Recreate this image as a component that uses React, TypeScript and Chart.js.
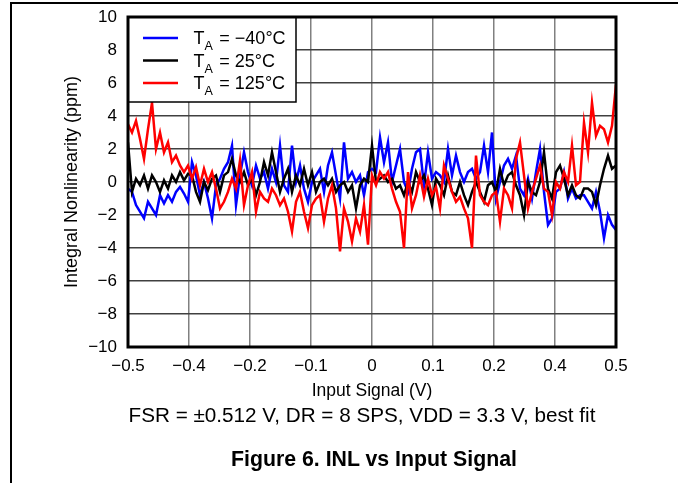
import React, { useEffect, useRef } from 'react';
import { Chart, registerables } from 'chart.js';

Chart.register(...registerables);

const FONT = "'Liberation Sans', Arial, Helvetica, sans-serif";

const X_MIN = -0.5;
const X_MAX = 0.5;
const X_TICK_VALUES = [-0.5, -0.375, -0.25, -0.125, 0, 0.125, 0.25, 0.375, 0.5];
const X_TICK_LABELS = ['−0.5', '−0.4', '−0.2', '−0.1', '0', '0.1', '0.2', '0.4', '0.5'];
const Y_TICK_VALUES = [-10, -8, -6, -4, -2, 0, 2, 4, 6, 8, 10];
const Y_TICK_LABELS = ['−10', '−8', '−6', '−4', '−2', '0', '2', '4', '6', '8', '10'];

const X_TITLE = 'Input Signal (V)';
const Y_TITLE = 'Integral Nonlinearity (ppm)';
const CONDITIONS = 'FSR = ±0.512 V, DR = 8 SPS, VDD = 3.3 V, best fit';
const FIGURE_TITLE = 'Figure 6. INL vs Input Signal';

const SERIES_TEMPS = ['−40°C', '25°C', '125°C'];
const SERIES_COLORS = ['#0000ff', '#000000', '#ff0000'];

// INL (ppm), evenly spaced samples from −0.5 V to +0.5 V
const INL_M40 = [
  -0.4, -0.6, -1.4, -1.8, -2.2, -1.2, -1.6, -2.0, -0.8, -1.3, -0.8, -1.2, -0.6, -0.3, -0.7, -1.2,
  1.2, 0.4, -0.8, 0.0, -1.0, -2.2, -0.2, 0.2, 0.8, 1.2, 2.2, -1.4, 0.4, 1.8, 0.6, -0.2,
  1.0, 0.2, 0.6, -0.4, 0.8, 0.0, 2.2, -0.2, -0.6, 2.2, 0.0, 1.0, -0.4, -1.2, 0.0, 0.4,
  0.8, -0.6, 1.0, 1.8, 0.4, -1.0, 2.4, 0.2, 0.6, 0.0, 0.4, -0.8, 0.6, 0.8, 0.6, 2.7,
  1.2, 2.4, 0.0, 1.0, 2.0, 0.0, -0.6, 0.8, 1.8, 2.0, -0.2, 1.8, 0.2, 0.6, 0.4, 0.0,
  2.0, 0.4, 1.6, 0.6, 0.0, 0.6, 0.8, 0.2, 0.6, 2.2, 0.6, 3.0, -1.0, 0.0, 1.0, 1.4,
  0.8, 1.6, -0.4, -0.8, 0.2, -1.0, 0.6, 2.0, -0.6, -2.6, -2.2, -0.6, -0.4, 0.6, -1.0, -0.4,
  -1.0, -0.8, -0.8, -1.2, -1.6, -0.6, -1.8, -3.4, -2.0, -2.6, -2.9,
];

const INL_25 = [
  2.4, -0.6, 0.2, -0.2, 0.4, -0.4, 0.4, 0.0, -0.6, 0.1, -0.4, 0.4, 0.0, 0.6, 0.1, 0.5,
  0.4, -0.6, -1.2, 0.0, -0.5, 0.2, 0.4, -0.6, 0.4, 0.6, 1.4, 0.4, 0.0, 0.6, -0.2, 0.2,
  -0.8, 0.0, 1.2, 0.4, 1.8, 0.6, -0.6, 0.2, 0.8, -0.6, 0.4, -0.2, 0.8, -0.2, 0.6, -0.6,
  0.0, 0.2, -0.2, 0.2, -0.6, -0.2, 0.0, -0.6, -0.2, -1.6, -0.2, 0.2, 0.0, 2.2, 0.0, 0.2,
  0.4, 0.0, 0.2, -0.4, -0.2, -0.8, 0.0, -0.6, 0.6, 0.0, 0.4, -0.4, -1.4, 0.2, -0.2, -0.8,
  0.4, -0.6, -0.8, 0.0, -0.8, -1.4, -0.6, 0.0, -0.6, -1.2, -0.2, 0.0, -0.6, 0.8, -0.2, 0.4,
  0.6, -0.2, -0.8, -2.0, 0.0, -0.6, -0.8, 0.0, 1.8, -0.4, -1.0, 0.6, 1.0, 0.2, -0.8, -0.2,
  -0.8, -1.0, -0.4, -0.4, -0.6, -1.4, -0.2, 0.8, 1.6, 0.8, 1.0,
];

const INL_125 = [
  3.5, 3.0, 3.7, 2.6, 1.4, 3.2, 4.8, 2.0, 3.0, 1.8, 2.4, 1.2, 1.6, 1.0, 0.6, 1.0,
  0.2, 0.9, -0.2, 0.8, 0.0, 0.6, -0.4, -1.6, -1.2, -0.6, 0.2, -0.4, 1.3, -1.4, -0.2, 0.6,
  -1.8, -0.6, -1.0, -1.2, -0.4, -0.8, -1.4, -1.0, -1.8, -3.0, -1.2, -0.6, -1.8, -2.8, -1.4, -1.0,
  -0.8, -2.4, -1.0, -0.2, -1.6, -4.2, -1.6, -2.4, -3.6, -2.2, -3.0, -1.4, -3.8, 0.4, -0.2, 0.6,
  0.2, 0.6, -0.4, -1.2, -1.8, -4.0, 0.6, -1.6, -0.8, 0.4, -0.9, 0.2, -0.8, -0.3, -1.6, 1.0,
  0.2, -0.6, -1.2, -0.9, -1.6, -2.2, -4.0, 1.6, -0.8, -1.2, -1.4, -0.8, -0.6, -2.4, -0.4, -0.8,
  -1.6, 1.4, 2.4, 0.4, -1.6, -0.6, 0.2, 1.0, -0.4, -0.6, -2.0, 0.0, -0.4, 0.6, 0.0, 2.2,
  -0.2, 0.0, 3.6, 1.8, 4.8, 2.8, 3.4, 3.2, 2.4, 3.4, 5.9,
];

const SERIES_VALUES = [INL_M40, INL_25, INL_125];

function toPoints(values: number[]) {
  const n = values.length - 1;
  return values.map((v, i) => ({ x: X_MIN + ((X_MAX - X_MIN) * i) / n, y: v }));
}

const framePlugin = {
  id: 'frameAndLegend',
  afterDraw(chart: any) {
    const { ctx, chartArea } = chart;
    const { left, top, right, bottom } = chartArea;
    ctx.save();
    // legend box
    const boxRight = 296;
    const boxBottom = 102;
    ctx.fillStyle = '#ffffff';
    ctx.fillRect(left, top, boxRight - left, boxBottom - top);
    ctx.strokeStyle = '#000000';
    ctx.lineWidth = 1.5;
    ctx.strokeRect(left, top, boxRight - left, boxBottom - top);
    const rows = [38, 60.5, 83];
    chart.data.datasets.forEach((ds: any, i: number) => {
      const cy = rows[i];
      ctx.strokeStyle = ds.borderColor;
      ctx.lineWidth = 2.5;
      ctx.beginPath();
      ctx.moveTo(143, cy);
      ctx.lineTo(178, cy);
      ctx.stroke();
      ctx.fillStyle = '#000000';
      ctx.textBaseline = 'alphabetic';
      ctx.textAlign = 'left';
      const base = cy + 6.3;
      let x = 193.5;
      ctx.font = `18px ${FONT}`;
      ctx.fillText('T', x, base);
      x += ctx.measureText('T').width;
      ctx.font = `12.5px ${FONT}`;
      ctx.fillText('A', x, base + 6);
      x += ctx.measureText('A').width + 1.5;
      ctx.font = `18px ${FONT}`;
      ctx.fillText(' = ' + ds.temp, x, base);
    });
    // plot frame
    ctx.strokeStyle = '#000000';
    ctx.lineWidth = 3;
    ctx.strokeRect(left, top, right - left, bottom - top);
    ctx.restore();
  },
};

export default function App() {
  const canvasRef = useRef<HTMLCanvasElement | null>(null);

  useEffect(() => {
    const canvas = canvasRef.current;
    if (!canvas) return;
    const chart = new Chart(canvas, {
      type: 'line',
      data: {
        datasets: SERIES_VALUES.map((vals, i) => ({
          label: 'TA = ' + SERIES_TEMPS[i],
          temp: SERIES_TEMPS[i],
          data: toPoints(vals),
          borderColor: SERIES_COLORS[i],
          backgroundColor: SERIES_COLORS[i],
          borderWidth: 2.5,
          pointRadius: 0,
          tension: 0,
          fill: false,
          order: 3 - i,
        })) as any,
      },
      options: {
        animation: false,
        responsive: false,
        devicePixelRatio: 1,
        layout: { padding: { left: 60, top: 17, right: 62, bottom: 66 } },
        plugins: { legend: { display: false }, tooltip: { enabled: false } },
        scales: {
          x: {
            type: 'linear',
            min: X_MIN,
            max: X_MAX,
            afterBuildTicks: (s: any) => {
              s.ticks = X_TICK_VALUES.map((v) => ({ value: v }));
            },
            afterFit: (s: any) => {
              s.height = 70;
              s.paddingLeft = 0;
              s.paddingRight = 0;
            },
            ticks: {
              callback: (_v: any, i: number) => X_TICK_LABELS[i],
              color: '#000000',
              font: { family: FONT, size: 17 },
              padding: 9,
              maxRotation: 0,
              autoSkip: false,
            },
            grid: { color: '#808080', lineWidth: 1.5, drawTicks: false },
            border: { display: false },
            title: {
              display: true,
              text: X_TITLE,
              color: '#000000',
              font: { family: FONT, size: 17.5 },
              padding: { top: 0, bottom: 15.5 },
            },
          },
          y: {
            type: 'linear',
            min: -10,
            max: 10,
            afterBuildTicks: (s: any) => {
              s.ticks = Y_TICK_VALUES.map((v) => ({ value: v }));
            },
            afterFit: (s: any) => {
              s.width = 68;
              s.paddingTop = 0;
              s.paddingBottom = 0;
            },
            ticks: {
              callback: (_v: any, i: number) => Y_TICK_LABELS[i],
              color: '#000000',
              font: { family: FONT, size: 17 },
              padding: 11,
              autoSkip: false,
            },
            grid: { color: '#404040', lineWidth: 1.5, drawTicks: false },
            border: { display: false },
            title: {
              display: true,
              text: Y_TITLE,
              color: '#000000',
              font: { family: FONT, size: 18 },
              padding: { top: 1, bottom: 0 },
            },
          },
        },
      } as any,
      plugins: [framePlugin],
    });
    return () => chart.destroy();
  }, []);

  return (
    <div style={{ position: 'fixed', left: 0, top: 0, width: 678, height: 483, background: '#fff', overflow: 'hidden' }}>
      <canvas ref={canvasRef} width={678} height={483} style={{ position: 'absolute', left: 0, top: 0 }} />
      <div
        style={{
          position: 'absolute',
          left: 10,
          top: 2,
          right: 0,
          bottom: 0,
          borderLeft: '2px solid #000',
          borderTop: '2px solid #000',
          pointerEvents: 'none',
        }}
      />
      <div
        style={{
          position: 'absolute',
          left: 62,
          width: 600,
          top: 404,
          textAlign: 'center',
          fontFamily: FONT,
          fontSize: 20.7,
          lineHeight: '21px',
          whiteSpace: 'nowrap',
          color: '#000',
        }}
      >
        {CONDITIONS}
      </div>
      <div
        style={{
          position: 'absolute',
          left: 74,
          width: 600,
          top: 449,
          textAlign: 'center',
          fontFamily: FONT,
          fontSize: 21.3,
          fontWeight: 'bold',
          lineHeight: '21px',
          whiteSpace: 'nowrap',
          color: '#000',
        }}
      >
        {FIGURE_TITLE}
      </div>
    </div>
  );
}
